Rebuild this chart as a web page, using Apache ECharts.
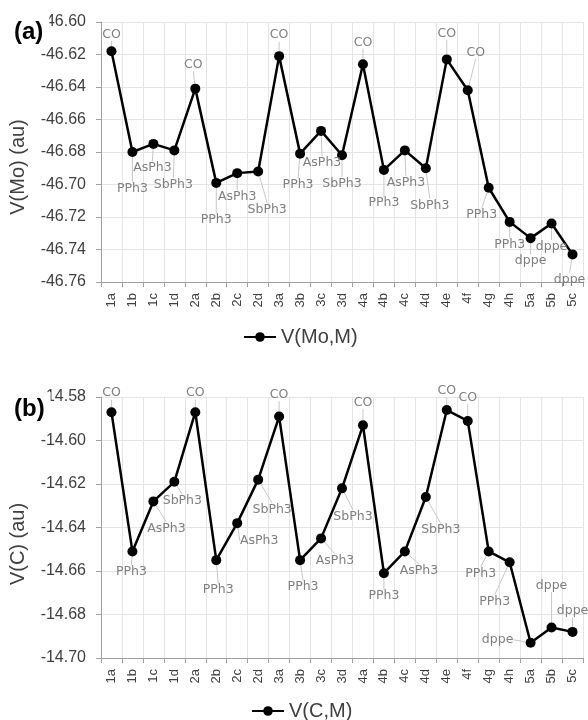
<!DOCTYPE html>
<html>
<head>
<meta charset="utf-8">
<script src="https://cdn.jsdelivr.net/npm/echarts@6/dist/echarts.min.js"></script>
<style>
  html, body { margin: 0; padding: 0; background: #fff; }
  #chart { width: 588px; height: 720px; }
</style>
</head>
<body>
<div id="chart"></div>
<script>
const categories = ['1a', '1b', '1c', '1d', '2a', '2b', '2c', '2d', '3a', '3b', '3c', '3d',
  '4a', '4b', '4c', '4d', '4e', '4f', '4g', '4h', '5a', '5b', '5c']
const ligands = ['CO', 'PPh3', 'AsPh3', 'SbPh3', 'CO', 'PPh3', 'AsPh3', 'SbPh3', 'CO', 'PPh3', 'AsPh3', 'SbPh3',
  'CO', 'PPh3', 'AsPh3', 'SbPh3', 'CO', 'CO', 'PPh3', 'PPh3', 'dppe', 'dppe', 'dppe']
const vMoM = [-46.618, -46.680, -46.675, -46.679, -46.641, -46.699, -46.693, -46.692, -46.621, -46.681, -46.667, -46.682,
  -46.626, -46.691, -46.679, -46.690, -46.623, -46.642, -46.702, -46.723, -46.733, -46.724, -46.743]
const vCM = [-14.587, -14.651, -14.628, -14.619, -14.587, -14.655, -14.638, -14.618, -14.589, -14.655, -14.645, -14.622,
  -14.593, -14.661, -14.651, -14.626, -14.586, -14.591, -14.651, -14.656, -14.693, -14.686, -14.688]

// label offsets (dx, dy) from each point, in px
const offsetsA = [[0, -17], [0, 37], [-1, 24], [-1, 34], [-2, -24], [0, 37], [0, 24], [9, 38], [0, -21], [-2, 31], [1, 32], [0, 28],
  [0, -22], [0, 33], [1, 32], [4, 37], [0, -26], [8, -38], [-7, 27], [0, 23], [0, 23], [0, 23], [-3, 25]]
const offsetsB = [[0, -19], [-1, 20], [13, 27], [8, 19], [0, -19], [2, 30], [22, 18], [14, 30], [0, -22], [3, 27], [14, 22], [11, 28],
  [0, -23], [0, 23], [14, 19], [15, 33], [0, -19], [0, -23], [-8, 22], [-15, 39], [-33, -3], [0, -42], [0, -21]]

const axisGrey = '#a0a0a0'
const textDark = '#404040'

function xAxisFor(gridIndex) {
  return {
    type: 'category',
    gridIndex,
    data: categories,
    boundaryGap: true,
    axisLine: { lineStyle: { color: axisGrey, width: 1 } },
    axisTick: { show: true, length: 5, lineStyle: { color: axisGrey } },
    axisLabel: { rotate: 90, fontSize: 13, color: textDark, fontFamily: 'Liberation Sans', margin: 11, interval: 0 },
    splitLine: { show: true, lineStyle: { color: '#e4e4e4' } }
  }
}

function yAxisFor(gridIndex, min, max) {
  return {
    type: 'value',
    gridIndex,
    min,
    max,
    interval: 0.02,
    axisLine: { show: true, lineStyle: { color: axisGrey } },
    axisTick: { show: true, length: 5, lineStyle: { color: axisGrey } },
    axisLabel: {
      fontSize: 16, color: textDark, fontFamily: 'Liberation Sans', margin: 15,
      formatter: (v) => v.toFixed(2)
    },
    splitLine: { show: true, lineStyle: { color: '#e4e4e4' } }
  }
}

function seriesFor(name, idx, values, offsets) {
  return {
    name,
    type: 'line',
    xAxisIndex: idx,
    yAxisIndex: idx,
    data: values,
    symbol: 'circle',
    symbolSize: 10,
    itemStyle: { color: '#000' },
    lineStyle: { color: '#000', width: 2.5 },
    label: {
      show: true,
      position: 'inside',
      formatter: (p) => ligands[p.dataIndex],
      fontFamily: 'DejaVu Sans',
      fontSize: 12.5,
      color: '#7f7f7f'
    },
    labelLine: { show: true, lineStyle: { color: '#c8c8c8', width: 1 } },
    labelLayout: (p) => ({ dx: offsets[p.dataIndex][0], dy: offsets[p.dataIndex][1], hideOverlap: false }),
    animation: false,
    z: 3
  }
}

const chart = echarts.init(document.getElementById('chart'))
chart.setOption({
  backgroundColor: '#fff',
  animation: false,
  grid: [
    { left: 101, right: 5, top: 22, height: 260 },
    { left: 101, right: 5, top: 397, height: 261 }
  ],
  xAxis: [xAxisFor(0), xAxisFor(1)],
  yAxis: [yAxisFor(0, -46.76, -46.60), yAxisFor(1, -14.70, -14.58)],
  legend: [
    {
      data: ['V(Mo,M)'], left: 238, top: 322, itemWidth: 32, itemHeight: 12, itemGap: 6,
      textStyle: { fontSize: 20, color: textDark, fontFamily: 'Liberation Sans' }
    },
    {
      data: ['V(C,M)'], left: 246, top: 696, itemWidth: 32, itemHeight: 12, itemGap: 4,
      textStyle: { fontSize: 20, color: textDark, fontFamily: 'Liberation Sans' }
    }
  ],
  graphic: [
    {
      type: 'text', x: 14, y: 16, z: 100,
      style: { text: '(a)', fontSize: 24, fontWeight: 'bold', fontFamily: 'Liberation Sans', fill: '#000',
        backgroundColor: '#fff', padding: [4, 6, 0, 0], textVerticalAlign: 'top' }
    },
    {
      type: 'text', x: 14, y: 392, z: 100,
      style: { text: '(b)', fontSize: 24, fontWeight: 'bold', fontFamily: 'Liberation Sans', fill: '#000',
        backgroundColor: '#fff', padding: [5, 6, 0, 0], textVerticalAlign: 'top' }
    },
    {
      type: 'text', x: 18, y: 167, rotation: Math.PI / 2,
      style: { text: 'V(Mo) (au)', fontSize: 20, fontFamily: 'Liberation Sans', fill: textDark,
        textAlign: 'center', textVerticalAlign: 'middle' }
    },
    {
      type: 'text', x: 18, y: 544, rotation: Math.PI / 2,
      style: { text: 'V(C) (au)', fontSize: 20, fontFamily: 'Liberation Sans', fill: textDark,
        textAlign: 'center', textVerticalAlign: 'middle' }
    }
  ],
  series: [
    seriesFor('V(Mo,M)', 0, vMoM, offsetsA),
    seriesFor('V(C,M)', 1, vCM, offsetsB)
  ]
})
</script>
</body>
</html>
